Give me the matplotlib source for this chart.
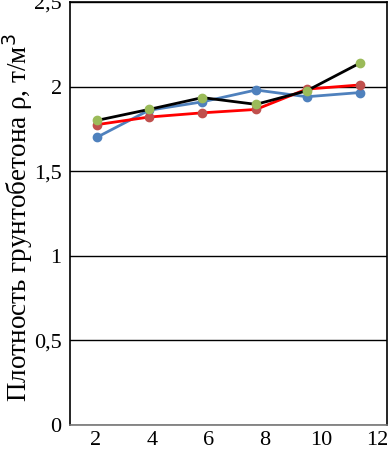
import matplotlib
matplotlib.use("Agg")
import matplotlib.pyplot as plt
from matplotlib.ticker import FuncFormatter

# point positions along the x axis
X_PTS = [2.05, 3.9, 5.8, 7.7, 9.5, 11.4]
BLUE = [1.70, 1.86, 1.91, 1.98, 1.94, 1.965]
RED = [1.775, 1.82, 1.845, 1.865, 1.985, 2.01]
BLACK = [1.80, 1.865, 1.935, 1.895, 1.975, 2.14]

X_TICKS = [2, 4, 6, 8, 10, 12]
Y_TICKS = [0, 0.5, 1, 1.5, 2, 2.5]

plt.rcParams["font.family"] = ["Liberation Serif", "DejaVu Serif"]

fig = plt.figure(figsize=(3.92, 4.51), dpi=100)
ax = fig.add_axes([70 / 392, 1 - 425 / 451, 317 / 392, 423 / 451])

ax.plot(X_PTS, BLUE, color="#4f81bd", lw=2, marker="o", ms=6,
        markerfacecolor="#4f81bd", markeredgecolor="#4f81bd", zorder=3)
ax.plot(X_PTS, RED, color="#ff0000", lw=2, marker="o", ms=6,
        markerfacecolor="#c0504d", markeredgecolor="#c0504d", zorder=4)
ax.plot(X_PTS, BLACK, color="black", lw=2, marker="o", ms=6,
        markerfacecolor="#9bbb59", markeredgecolor="#9bbb59", zorder=5)

ax.set_xlim(1.1, 12.35)
ax.set_ylim(0, 2.5)
ax.set_xticks(X_TICKS)
ax.set_yticks(Y_TICKS)
ax.yaxis.set_major_formatter(FuncFormatter(lambda v, _: f"{v:g}".replace(".", ",")))
ax.tick_params(length=0, labelsize=16, pad=6)
ax.tick_params(axis="x", pad=4)
ax.grid(axis="y", color="black", lw=1)
ax.set_axisbelow(True)
for s in ax.spines.values():
    s.set_color("black")
    s.set_linewidth(1.2)
ax.spines["bottom"].set_color("#777777")

ax.set_ylabel("Плотность грунтобетона ρ, т/м$^3$", fontsize=19.5)
ax.yaxis.set_label_coords(-0.11, 0.49)

fig.savefig("out.png", dpi=100)
